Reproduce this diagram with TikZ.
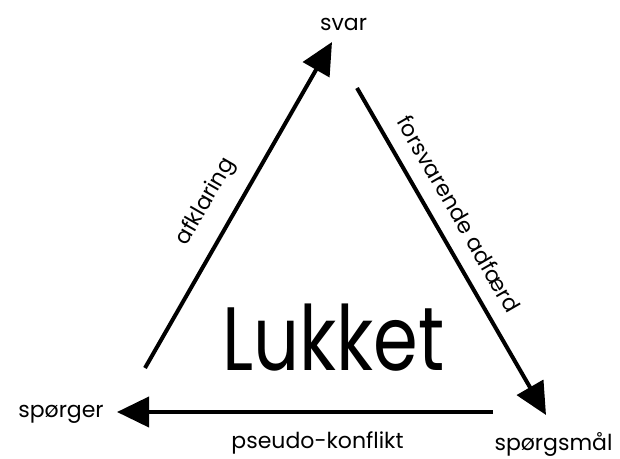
\documentclass[tikz,border=0pt]{standalone}
\usepackage{fontspec}
\setmainfont{Poppins}
\usetikzlibrary{arrows.meta}
\begin{document}
\begin{tikzpicture}[x=1pt,y=-1pt,
  conn/.style={line width=4pt,-{Triangle[length=32pt,width=30pt]}},
  lbl/.style={inner sep=0pt,anchor=base,font=\fontsize{22}{24}\selectfont},
  big/.style={inner sep=0pt,anchor=base,font=\fontsize{90}{100}\selectfont}]
\useasboundingbox (0,0) rectangle (620,458);
\node[lbl] (svar) at (343.5,30) {svar};
\node[lbl] (sporger) at (61,417) {spørger};
\node[lbl] (sporgsmaal) at (553.5,450) {spørgsmål};
\node[lbl] (pseudo) at (317.5,448) {pseudo-konflikt};
\node[big] (lukket) at (333.5,370) {\scalebox{0.8}[1]{Lukket}};
\coordinate (a1) at (145,368);
\coordinate (a2) at (332,42);
\coordinate (b1) at (357,88);
\coordinate (b2) at (546,415);
\coordinate (c1) at (493,412);
\coordinate (c2) at (117,412);
\draw[conn] (a1) -- (a2);
\draw[conn] (b1) -- (b2);
\draw[conn] (c1) -- (c2);
\node[lbl,anchor=center,rotate=60] (afkl) at (206,202) {afklaring};
\node[lbl,anchor=center,rotate=-60] (forsv) at (459,214) {forsvarende adfærd};
\end{tikzpicture}
\end{document}
